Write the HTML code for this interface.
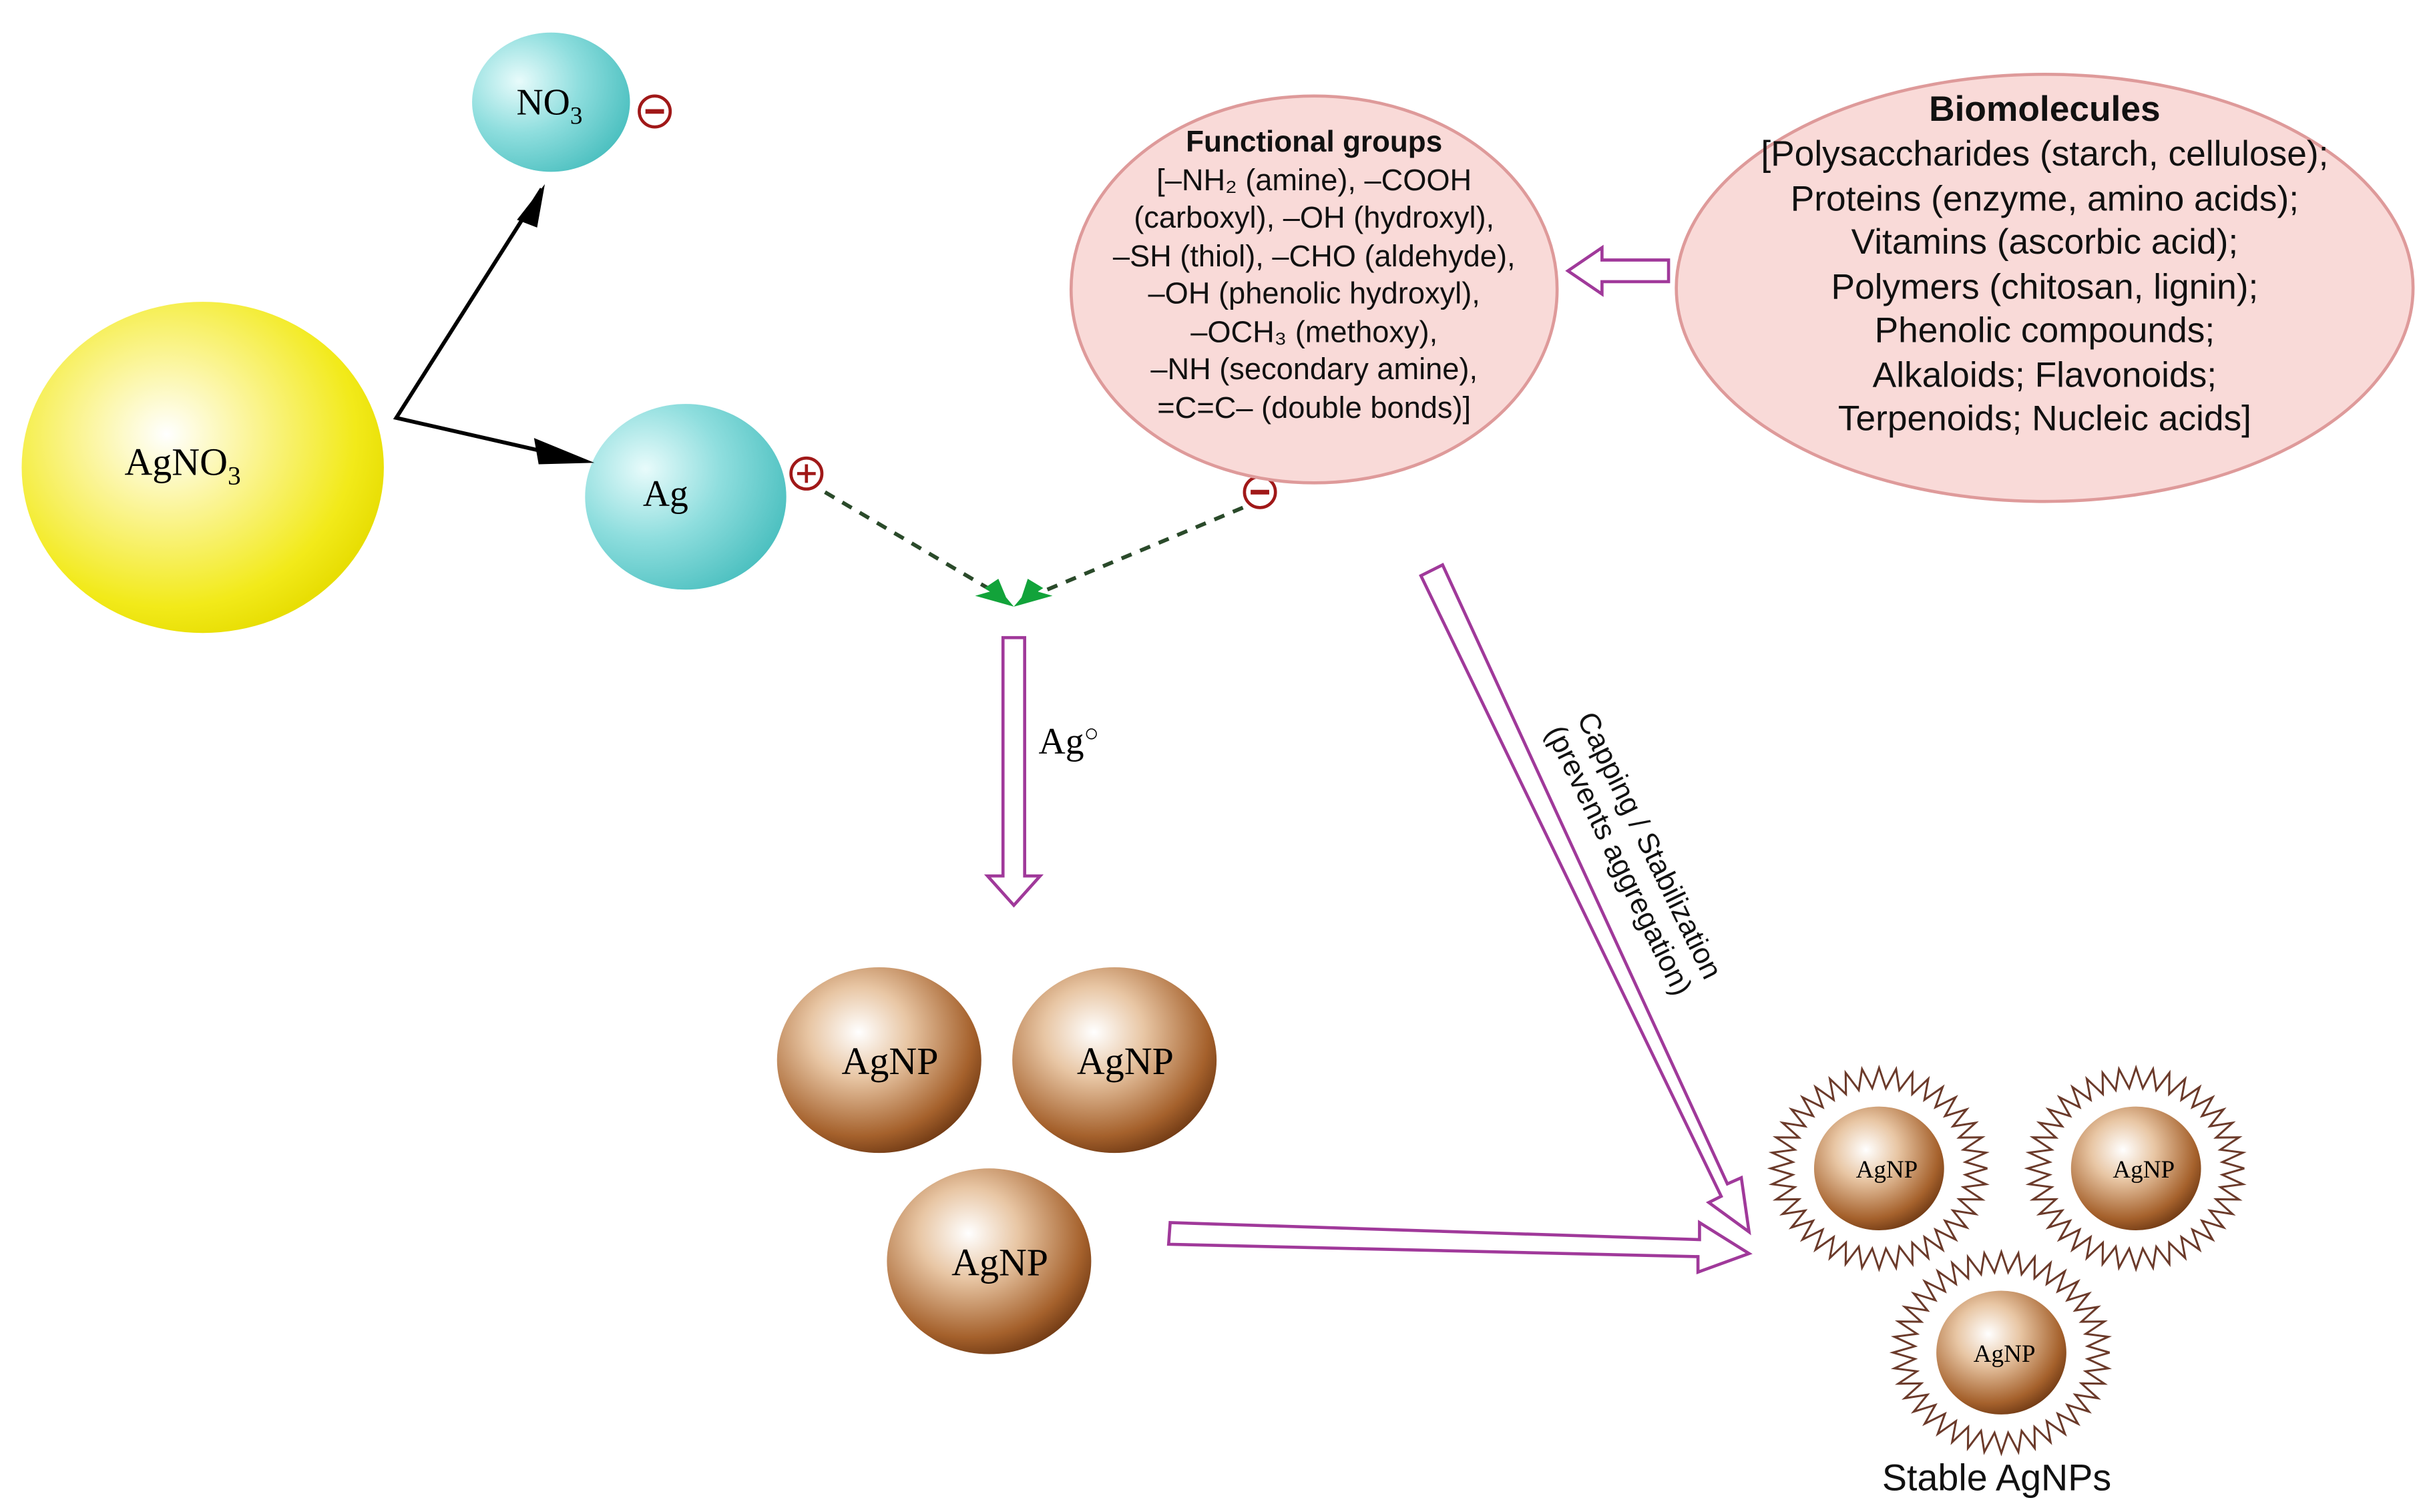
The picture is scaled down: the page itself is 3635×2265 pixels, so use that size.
<!DOCTYPE html>
<html><head><meta charset="utf-8"><style>
html,body{margin:0;padding:0;background:#fff}
svg{display:block}
</style></head><body>
<svg id="s" width="3635" height="2265" viewBox="0 0 1568 977" xmlns="http://www.w3.org/2000/svg">
<defs>
<radialGradient id="yel" cx="0.4" cy="0.4" r="0.65"><stop offset="0" stop-color="#ffffff"/><stop offset="0.35" stop-color="#fbf59a"/><stop offset="0.8" stop-color="#f2ea1a"/><stop offset="1" stop-color="#e6dc00"/></radialGradient>
<radialGradient id="cy" cx="0.3" cy="0.35" r="0.75"><stop offset="0" stop-color="#e8fbfb"/><stop offset="0.5" stop-color="#8fdede"/><stop offset="1" stop-color="#4cc0c0"/></radialGradient>
<radialGradient id="br" cx="0.4" cy="0.35" r="0.7"><stop offset="0" stop-color="#ffffff"/><stop offset="0.35" stop-color="#e8c6a4"/><stop offset="0.8" stop-color="#a5612c"/><stop offset="1" stop-color="#6b3612"/></radialGradient>
</defs>
<g font-family="Liberation Serif, serif">
<ellipse cx="131" cy="302" rx="117" ry="107" fill="url(#yel)"/>
<text x="118" y="307" font-size="25" text-anchor="middle">AgNO<tspan font-size="17" dy="6">3</tspan></text>
<ellipse cx="356" cy="66" rx="51" ry="45" fill="url(#cy)"/>
<text x="355" y="74" font-size="24" text-anchor="middle">NO<tspan font-size="16" dy="6">3</tspan></text>
<ellipse cx="443" cy="321" rx="65" ry="60" fill="url(#cy)"/>
<text x="430" y="327" font-size="24" text-anchor="middle">Ag</text>
<g fill="none" stroke="#a01818" stroke-width="2">
<circle cx="423" cy="72" r="10"/><line x1="417" y1="72" x2="429" y2="72" stroke-width="3"/>
<circle cx="521" cy="306" r="10"/><line x1="515" y1="306" x2="527" y2="306"/><line x1="521" y1="300" x2="521" y2="312"/>
<circle cx="814" cy="318" r="10"/><line x1="808" y1="318" x2="820" y2="318" stroke-width="3"/>
</g>
<g stroke="#000" stroke-width="2.5" fill="none"><polyline points="350,122 256,270 370,296"/></g>
<polygon points="352,119 334,142 347,147" fill="#000"/>
<polygon points="384,299 345,283 348,300" fill="#000"/>
<g stroke="#2a4a2a" stroke-width="2.5" stroke-dasharray="7,6"><line x1="533" y1="318" x2="645" y2="384"/><line x1="803" y1="328" x2="667" y2="385"/></g>
<polygon points="655,392 636,380 645,374 650,386" fill="#12a33a"/>
<polygon points="655,392 674,380 664,374 660,386" fill="#12a33a"/>
<polygon points="655,392 630,385 644,381" fill="#12a33a"/>
<polygon points="655,392 680,385 666,381" fill="#12a33a"/>
<text x="671" y="487" font-size="24">Ag<tspan font-size="16" dy="-8">○</tspan></text>
<ellipse cx="849" cy="187" rx="157" ry="125" fill="#f9dad8" stroke="#de9a9a" stroke-width="2"/>
<ellipse cx="1321" cy="186" rx="238" ry="138" fill="#f9dad8" stroke="#de9a9a" stroke-width="2"/>
<g font-family="Liberation Sans, sans-serif" text-anchor="middle" fill="#111">
<text x="849" y="98" font-size="19" font-weight="bold">Functional groups</text>
<g font-size="19.5"><text x="849" y="123">[–NH₂ (amine), –COOH</text><text x="849" y="147">(carboxyl), –OH (hydroxyl),</text><text x="849" y="172">–SH (thiol), –CHO (aldehyde),</text><text x="849" y="196">–OH (phenolic hydroxyl),</text><text x="849" y="221">–OCH₃ (methoxy),</text><text x="849" y="245">–NH (secondary amine),</text><text x="849" y="270">=C=C– (double bonds)]</text></g>
<text x="1321" y="78" font-size="23" font-weight="bold">Biomolecules</text>
<g font-size="23"><text x="1321" y="107">[Polysaccharides (starch, cellulose);</text><text x="1321" y="136">Proteins (enzyme, amino acids);</text><text x="1321" y="164">Vitamins (ascorbic acid);</text><text x="1321" y="193">Polymers (chitosan, lignin);</text><text x="1321" y="221">Phenolic compounds;</text><text x="1321" y="250">Alkaloids; Flavonoids;</text><text x="1321" y="278">Terpenoids; Nucleic acids]</text></g>
<text x="1290" y="963" font-size="24">Stable AgNPs</text>
<text transform="translate(1052,553) rotate(64)" font-size="19" text-anchor="middle"><tspan x="0" y="-9">Capping / Stabilization</tspan><tspan x="0" y="13">(prevents aggregation)</tspan></text>
</g>
<g fill="#fff" stroke="#a0399a" stroke-width="2">
<polygon points="1078,168 1035,168 1035,160 1013,175 1035,190 1035,182 1078,182"/>
<polygon points="648,412 662,412 662,566 672,566 655,585 638,566 648,566"/>
<polygon points="756,790 1098,801 1098,790 1130,810 1097,822 1097,812 755,804"/>
<polygon points="918,372 932,365 1116,765 1125,761 1130,796 1104,777 1112,773"/>
</g>
<g font-size="25" text-anchor="middle">
<ellipse cx="568" cy="685" rx="66" ry="60" fill="url(#br)"/><text x="575" y="694">AgNP</text>
<ellipse cx="720" cy="685" rx="66" ry="60" fill="url(#br)"/><text x="727" y="694">AgNP</text>
<ellipse cx="639" cy="815" rx="66" ry="60" fill="url(#br)"/><text x="646" y="824">AgNP</text>
</g>
<g id="zz" fill="none" stroke="#6b3a2a" stroke-width="1.3"></g>
<g font-size="16" text-anchor="middle">
<ellipse cx="1214" cy="755" rx="42" ry="40" fill="url(#br)"/><text x="1219" y="761">AgNP</text>
<ellipse cx="1380" cy="755" rx="42" ry="40" fill="url(#br)"/><text x="1385" y="761">AgNP</text>
<ellipse cx="1293" cy="874" rx="42" ry="40" fill="url(#br)"/><text x="1295" y="880">AgNP</text>
</g>
</g>
</svg>
<script>
var g=document.getElementById('zz');
[[1214,755],[1380,755],[1293,874]].forEach(function(c){
 var p=[],n=80;
 for(var i=0;i<=n;i++){var a=i/n*2*Math.PI;var k=(i%2?0.8:1);
  p.push((c[0]+70*k*Math.cos(a)).toFixed(1)+','+(c[1]+65*k*Math.sin(a)).toFixed(1));}
 var e=document.createElementNS('http://www.w3.org/2000/svg','polyline');
 e.setAttribute('points',p.join(' '));g.appendChild(e);
});
</script>
</body></html>
